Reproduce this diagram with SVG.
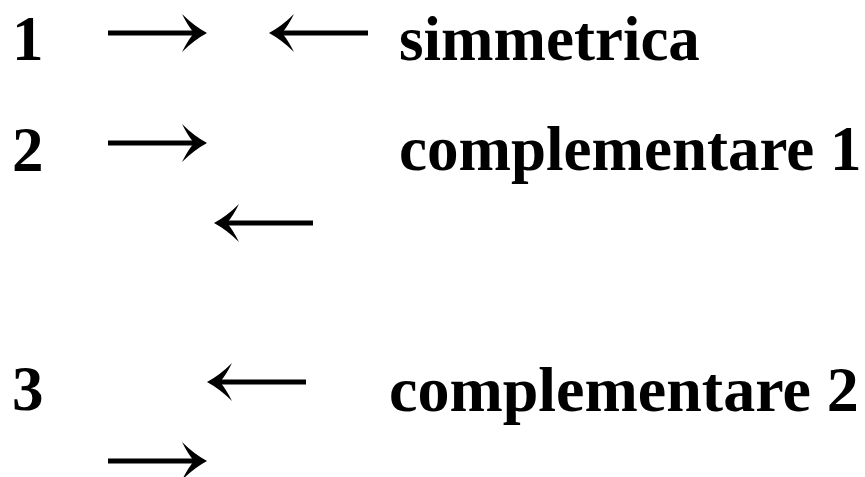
<svg xmlns="http://www.w3.org/2000/svg" xmlns:xlink="http://www.w3.org/1999/xlink" width="865" height="477" viewBox="0 0 865 477">
<style>
.t{font-family:"Liberation Serif","Times New Roman",serif;font-weight:bold;font-size:63px;fill:#000}
.t3{font-size:64px}
</style>
<defs>
<g id="ar"><rect x="0" y="-2.5" width="90" height="5"/><path d="M99,0 Q86,-7 74,-19 Q80,-7 86,0 Q80,7 74,19 Q86,7 99,0Z"/></g>
</defs>
<rect width="865" height="477" fill="#fff"/>
<g id="row1">
<text class="t" x="12" y="60">1</text>
<text class="t" x="399" y="60">simmetrica</text>
</g>
<g id="row2">
<text class="t" x="12" y="171">2</text>
<text class="t" x="399" y="170">complementare 1</text>
</g>
<g id="row3">
<text class="t" x="12" y="410">3</text>
<text class="t t3" x="389" y="411">complementare 2</text>
</g>
<g id="connectors">
<use xlink:href="#ar" transform="translate(108,33)"/>
<use xlink:href="#ar" transform="translate(368,33) scale(-1,1)"/>
<use xlink:href="#ar" transform="translate(108,143)"/>
<use xlink:href="#ar" transform="translate(313,223) scale(-1,1)"/>
<use xlink:href="#ar" transform="translate(306,382) scale(-1,1)"/>
<use xlink:href="#ar" transform="translate(108,461)"/>
</g>
</svg>
